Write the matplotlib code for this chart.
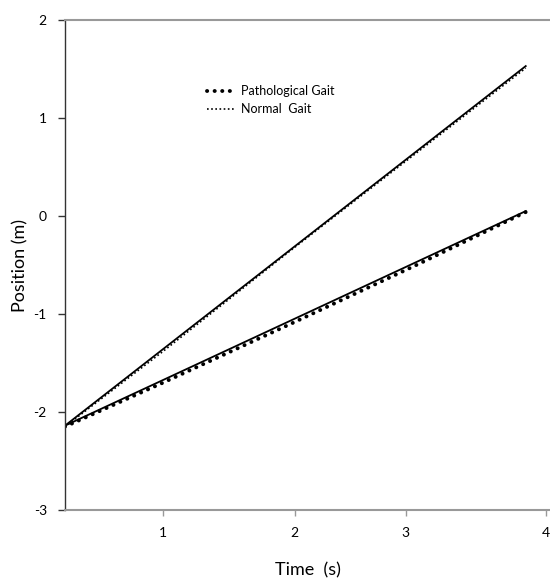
import matplotlib
matplotlib.use("Agg")
import matplotlib.pyplot as plt

plt.rcParams['font.family'] = ['Lato', 'DejaVu Sans']
plt.rcParams['axes.unicode_minus'] = False

# time (s) and position (m)
time = [0.23, 3.84]
normal_fit = [-2.14, 1.53]
patho_fit = [-2.14, 0.05]

time_pts = [0.23, 1.0, 2.0, 3.0, 3.84]
normal_pts = [-2.15, -1.38, -0.35, 0.66, 1.51]
patho_pts = [-2.15, -1.70, -1.10, -0.49, 0.04]

xtick_pos = [1.0, 2.03, 2.9, 4.0]
xtick_labels = ['1', '2', '3', '4']
yticks = [-3, -2, -1, 0, 1, 2]

fig = plt.figure(figsize=(5.5, 5.8), dpi=100)
ax = fig.add_axes([0.118, 0.1207, 0.882, 0.8448])

# solid trend lines
ax.plot(time, normal_fit, color='black', lw=1.3)
ax.plot(time, patho_fit, color='black', lw=1.3)

# dotted measured series
ax.plot(time_pts, patho_pts, color='black', lw=2.8,
        linestyle=(0, (0.05, 1.9)), dash_capstyle='round',
        label='Pathological Gait')
ax.plot(time_pts, normal_pts, color='black', lw=1.2,
        linestyle=(0, (1, 1.5)), label='Normal  Gait')

ax.set_xlim(0.23, 4.03)
ax.set_ylim(-3, 2)
ax.set_xticks(xtick_pos)
ax.set_xticklabels(xtick_labels)
ax.set_yticks(yticks)

ax.spines['right'].set_visible(False)
ax.spines['top'].set_color('#999999')
ax.spines['top'].set_linewidth(1.5)
ax.spines['bottom'].set_color('#999999')
ax.spines['bottom'].set_linewidth(1.5)
ax.spines['left'].set_color('#333333')
ax.spines['left'].set_linewidth(1.0)

ax.tick_params(axis='x', direction='out', length=4, width=1, color='#999999',
               pad=8, labelsize=10)
ax.tick_params(axis='y', direction='out', length=5, width=1, color='#333333',
               pad=8, labelsize=10)

ax.set_xlabel('Time  (s)', fontsize=13, labelpad=17)
ax.set_ylabel('Position (m)', fontsize=13, labelpad=4)

ax.legend(loc='center left', bbox_to_anchor=(0.27, 0.836), frameon=False,
          handlelength=2.2, handletextpad=0.5, fontsize=9, labelspacing=0.5)

fig.savefig('out.png', dpi=100)
